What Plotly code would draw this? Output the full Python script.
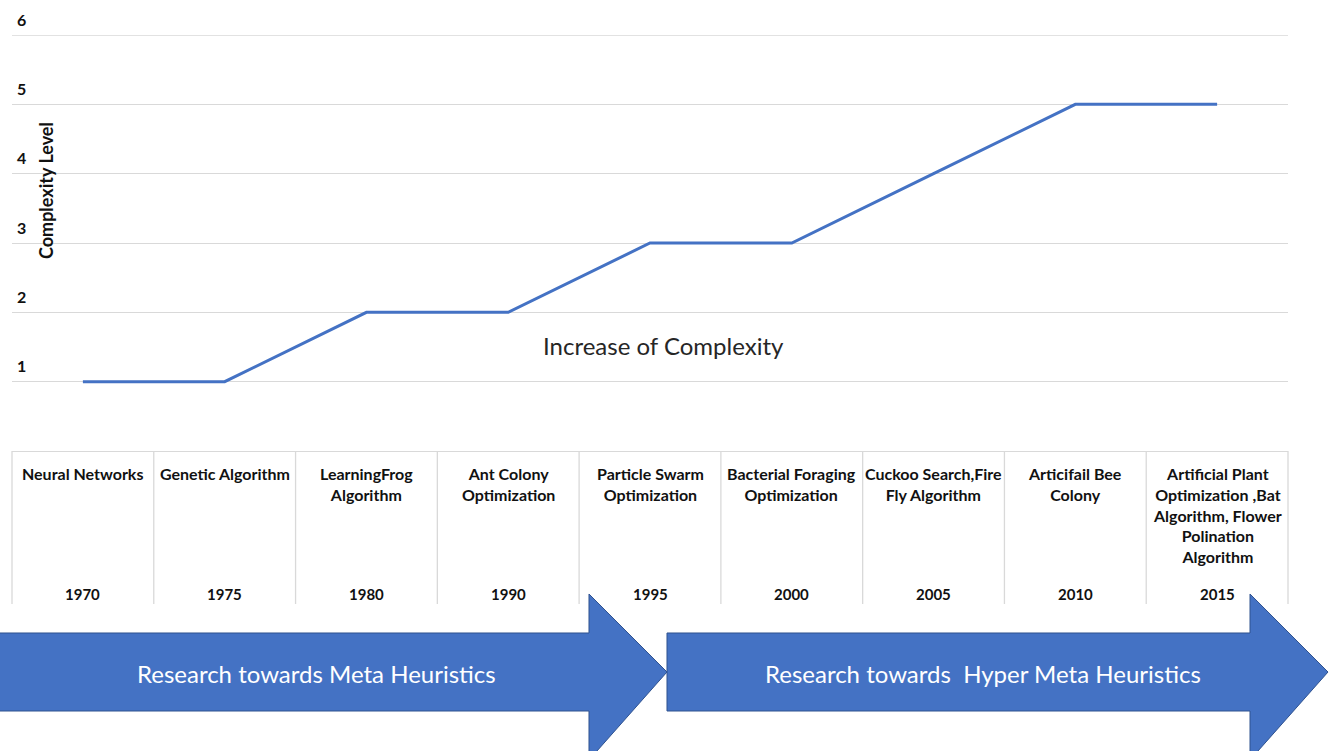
import plotly.graph_objects as go

W, H = 1340, 751

years = ["1970", "1975", "1980", "1990", "1995", "2000", "2005", "2010", "2015"]
algorithms = [
    "Neural Networks",
    "Genetic Algorithm",
    "LearningFrog<br>Algorithm",
    "Ant Colony<br>Optimization",
    "Particle Swarm<br>Optimization",
    "Bacterial Foraging<br>Optimization",
    "Cuckoo Search,Fire<br>Fly Algorithm",
    "Articifail Bee<br>Colony",
    "Artificial Plant<br>Optimization ,Bat<br>Algorithm, Flower<br>Polination<br>Algorithm",
]
complexity = [1, 1, 2, 2, 3, 3, 4, 5, 5]
y_ticks = [1, 2, 3, 4, 5, 6]
arrow_labels = ["Research towards Meta Heuristics", "Research towards  Hyper Meta Heuristics"]

FONT = "Lato"
BLUE = "#4472C4"
EDGE = "#2F528F"
GRID = "#D9D9D9"


def px(x):
    return x / W


def py(y):
    return 1 - y / H


fig = go.Figure()
fig.add_trace(go.Scatter(
    x=years, y=complexity, mode="lines",
    line=dict(color=BLUE, width=3), hoverinfo="x+y", showlegend=False,
))

shapes = []
annotations = []

# top gridline (at the top edge of the axis range)
shapes.append(dict(type="line", xref="x domain", yref="y", x0=0, x1=1,
                   y0=y_ticks[-1], y1=y_ticks[-1], line=dict(color=GRID, width=1.3),
                   layer="below"))

# table vertical lines
for i in range(len(years) + 1):
    x = 12 + i * (1288 - 12) / len(years)
    shapes.append(dict(type="line", xref="paper", yref="paper",
                       x0=px(x), x1=px(x), y0=py(451), y1=py(604),
                       line=dict(color=GRID, width=1.3), layer="below"))

# table text
for i, (name, yr) in enumerate(zip(algorithms, years)):
    annotations.append(dict(x=i, xref="x", xanchor="center", y=py(462), yref="paper",
                            yanchor="top", text="<b>" + name + "</b>", showarrow=False,
                            font=dict(family=FONT, size=16, color="#111"),
                            align="center"))
    annotations.append(dict(x=i, xref="x", xanchor="center", y=py(594), yref="paper",
                            yanchor="middle", text="<b>" + yr + "</b>", showarrow=False,
                            font=dict(family=FONT, size=15, color="#111")))

# y tick labels
for t in y_ticks:
    annotations.append(dict(x=px(21), xref="paper", xanchor="center", y=t, yref="y",
                            yshift=16, text="<b>%d</b>" % t, showarrow=False,
                            font=dict(family=FONT, size=16, color="#111")))

annotations.append(dict(x=px(46), xref="paper", xanchor="center", y=py(191), yref="paper",
                        yanchor="middle", text="<b>Complexity Level</b>", textangle=-90,
                        showarrow=False, font=dict(family=FONT, size=18, color="#111")))

annotations.append(dict(x=px(663), xref="paper", xanchor="center", y=py(346), yref="paper",
                        yanchor="middle", text="Increase of Complexity", showarrow=False,
                        font=dict(family=FONT, size=24, color="#262626")))


def arrow_path(x0, xb, xt, ytop_body, ybot_body, ytop_head, ybot_head, ytip):
    pts = [(x0, ytop_body), (xb, ytop_body), (xb, ytop_head), (xt, ytip),
           (xb, ybot_head), (xb, ybot_body), (x0, ybot_body)]
    d = "M " + " L ".join("%f,%f" % (px(a), py(b)) for a, b in pts) + " Z"
    return d


shapes.append(dict(type="path", xref="paper", yref="paper",
                   path=arrow_path(-5, 589, 667, 633, 711, 594, 760, 672),
                   fillcolor=BLUE, line=dict(color=EDGE, width=1)))
shapes.append(dict(type="path", xref="paper", yref="paper",
                   path=arrow_path(667, 1250, 1328, 633, 711, 594, 760, 672),
                   fillcolor=BLUE, line=dict(color=EDGE, width=1)))

annotations.append(dict(x=px(316), xref="paper", xanchor="center", y=py(673), yref="paper",
                        yanchor="middle", text=arrow_labels[0], showarrow=False,
                        font=dict(family=FONT, size=24, color="white")))
annotations.append(dict(x=px(983), xref="paper", xanchor="center", y=py(673), yref="paper",
                        yanchor="middle", text=arrow_labels[1], showarrow=False,
                        font=dict(family=FONT, size=24, color="white")))

fig.update_layout(
    width=W, height=H,
    margin=dict(l=0, r=0, t=0, b=0),
    paper_bgcolor="white", plot_bgcolor="white",
    shapes=shapes, annotations=annotations,
    xaxis=dict(type="category", domain=[px(12), px(1288)], range=[-0.5, 8.5],
               showgrid=False, showticklabels=False, zeroline=False, showline=False,
               fixedrange=True),
    yaxis=dict(domain=[py(451), py(35)], range=[0, 6], dtick=1, tick0=0,
               showgrid=True, gridcolor=GRID, gridwidth=1.3,
               showticklabels=False, zeroline=True, zerolinecolor=GRID, zerolinewidth=1.3,
               showline=False, fixedrange=True),
    font=dict(family=FONT),
)

fig.write_html("out.html", config={"displayModeBar": False},
               post_script="document.body.style.margin='0';document.body.style.overflow='hidden';")
